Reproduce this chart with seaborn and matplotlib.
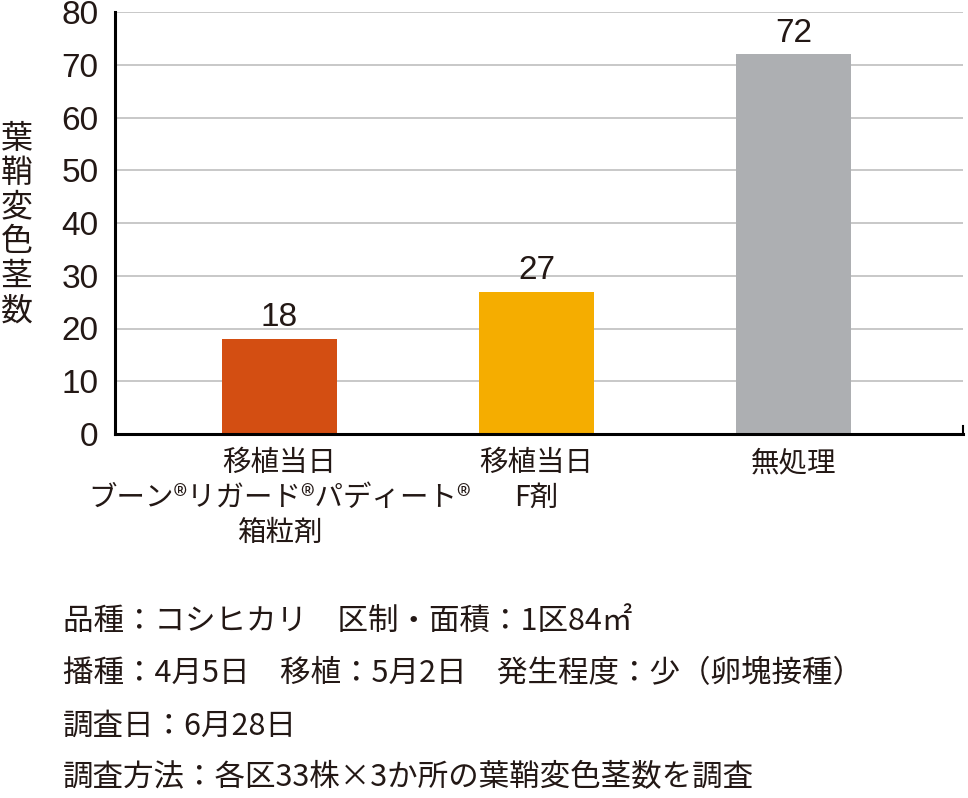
import numpy as np
import matplotlib
matplotlib.use("Agg")
import matplotlib.pyplot as plt
import seaborn as sns

categories = ["移植当日\nブーン®リガード®パディート®\n箱粒剤", "移植当日\nF剤", "無処理"]
values = [18, 27, 72]
bar_colors = ["#D34E12", "#F5AD00", "#ADAFB2"]
y_ticks = [0, 10, 20, 30, 40, 50, 60, 70, 80]
y_label = "葉鞘変色茎数"
notes = [
    "品種：コシヒカリ　区制・面積：1区84㎡",
    "播種：4月5日　移植：5月2日　発生程度：少（卵塊接種）",
    "調査日：6月28日",
    "調査方法：各区33株×3か所の葉鞘変色茎数を調査",
]

sns.set_style("white")
plt.rcParams["font.family"] = ["Noto Sans CJK JP", "DejaVu Sans"]
txt = "#231815"
num_font = ["Liberation Sans", "Noto Sans CJK JP"]

fig = plt.figure(figsize=(9.68, 7.98), dpi=100)
ax = fig.add_axes([115 / 968, 1 - 434 / 798, (963 - 115) / 968, (434 - 12) / 798])

sns.barplot(x=categories, y=values, hue=categories, palette=bar_colors,
            legend=False, width=0.45, linewidth=0, saturation=1, ax=ax)

ax.set_ylim(0, 80)
ax.set_xlim(-0.64, 2.66)
ax.set_yticks(y_ticks)
ax.yaxis.grid(True, color="#C4C4C4", linewidth=1.3)
ax.set_axisbelow(True)

ax.spines["top"].set_visible(False)
for s in ["left", "bottom"]:
    ax.spines[s].set_linewidth(2.2)
    ax.spines[s].set_color("black")
ax.spines["right"].set_color("black")
ax.spines["right"].set_linewidth(1.5)
ax.spines["right"].set_bounds(0, 1.5)

ax.tick_params(axis="y", length=0, pad=12, labelsize=24, labelcolor=txt)
ax.tick_params(axis="x", length=0, pad=10, labelsize=20.5, labelcolor=txt)
for lab in ax.get_yticklabels():
    lab.set_family(num_font)
for lab in ax.get_xticklabels():
    lab.set_linespacing(1.22)
ax.set_xlabel("")
ax.set_ylabel("")

for cont in ax.containers:
    ax.bar_label(cont, padding=4, fontsize=24, color=txt, family=num_font)

# 縦書きのY軸ラベル
fig.text(17 / 968, 1 - 225 / 798, "\n".join(y_label), ha="center", va="center",
         fontsize=23, color=txt, linespacing=1.1)

for i, line in enumerate(notes):
    fig.text(63 / 968, 1 - (622 + i * 52) / 798, line, ha="left", va="center",
             fontsize=22, color=txt)

fig.savefig("out.png", dpi=100)
